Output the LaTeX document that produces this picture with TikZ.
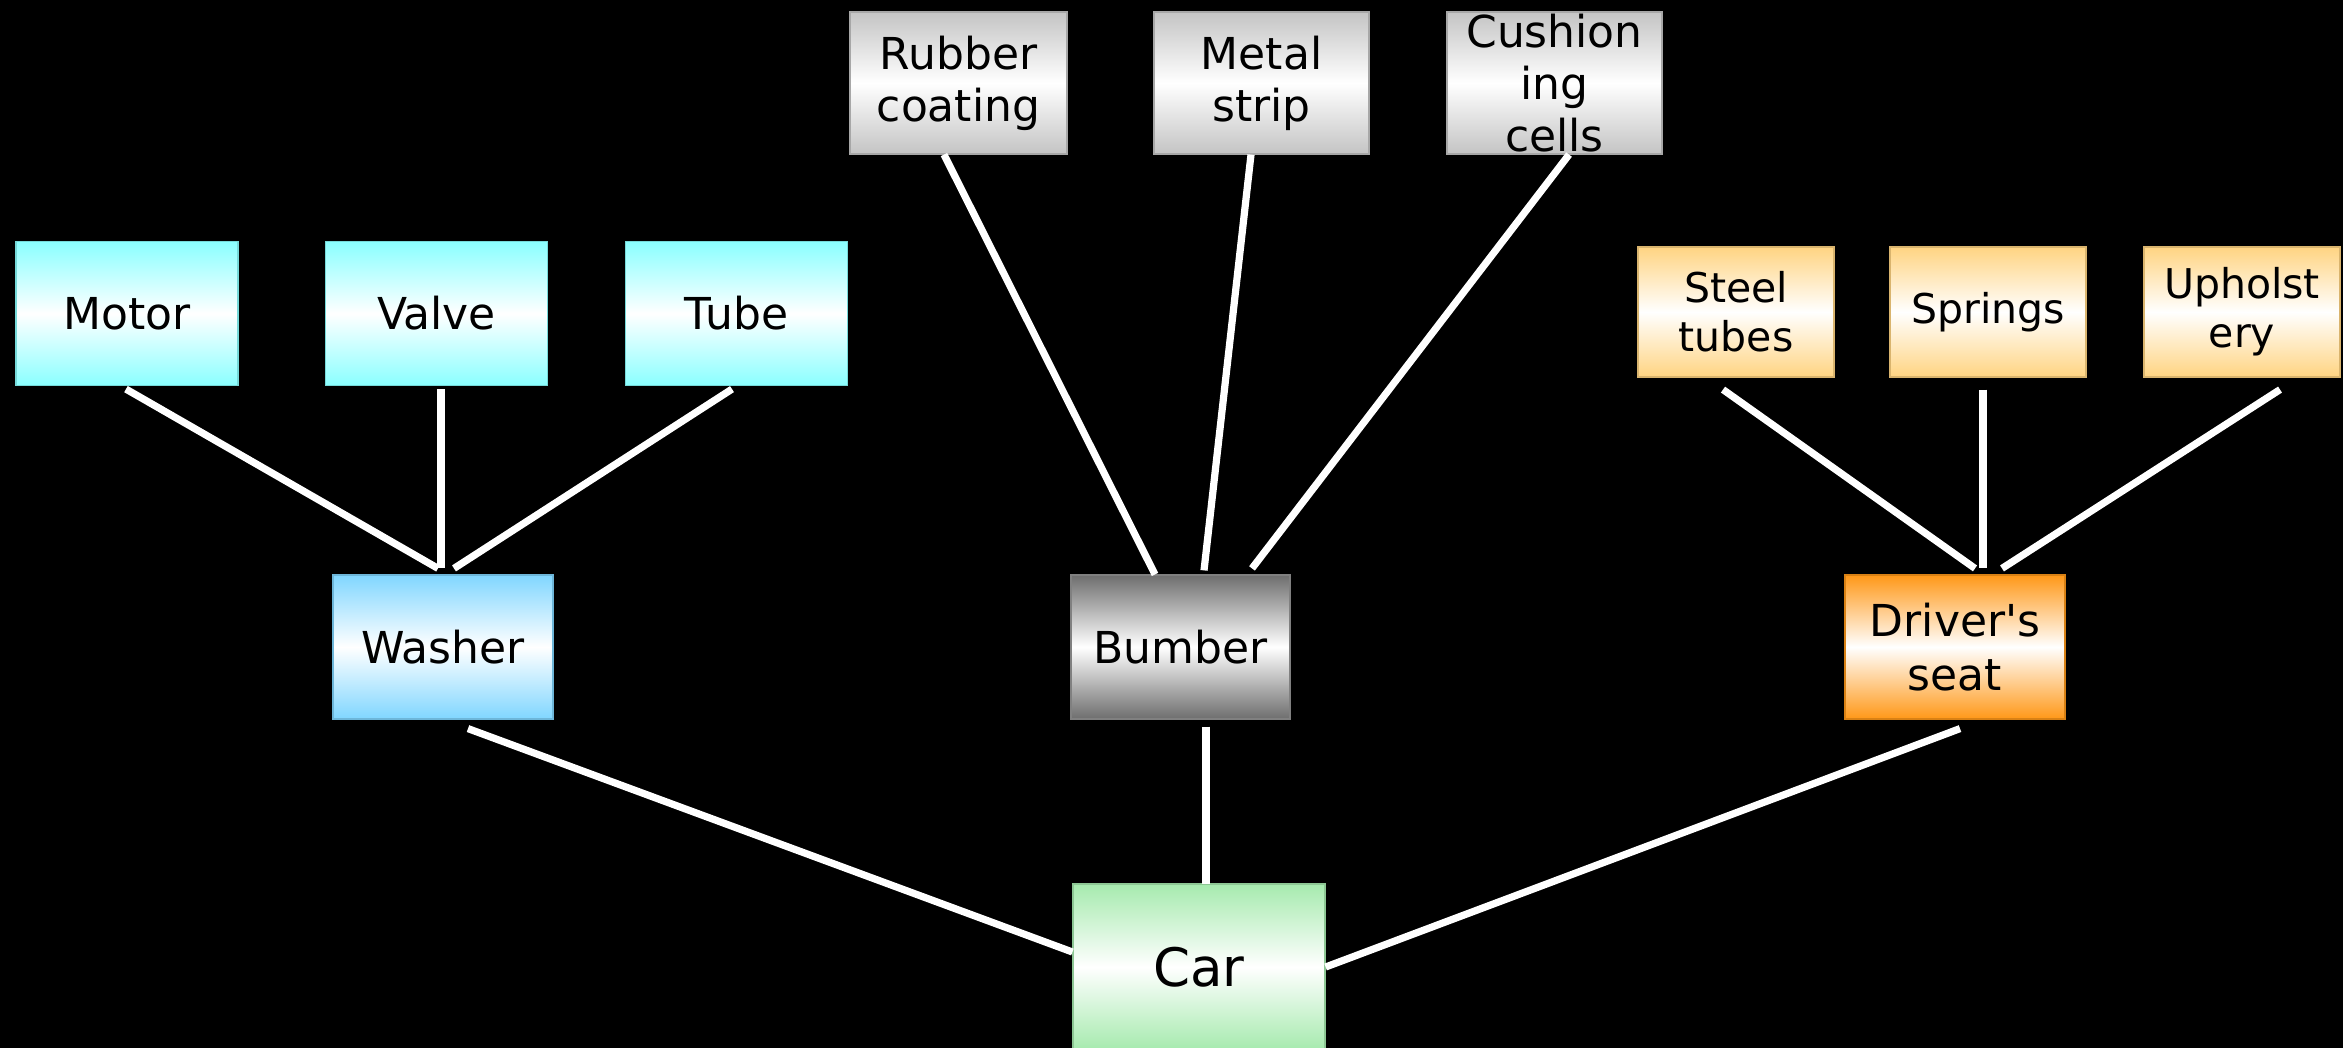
\documentclass[tikz,border=0pt]{standalone}
\usepackage{fontspec}
\setmainfont{DejaVu Sans}[Ligatures=TeXOff]
\usetikzlibrary{calc}
\definecolor{cyanc}{RGB}{138,255,255}
\definecolor{bluec}{RGB}{128,214,255}
\definecolor{lgrey}{RGB}{196,196,196}
\definecolor{dgrey}{RGB}{110,110,110}
\definecolor{lorange}{RGB}{255,212,130}
\definecolor{dorange}{RGB}{255,152,24}
\definecolor{greenc}{RGB}{166,234,174}
\tikzset{
  box/.style={rectangle, inner sep=0pt, align=center, text=black,
    font=\fontsize{22}{26}\selectfont, line width=0.6pt},
  shadebox/.style={box, top color=#1, bottom color=#1, middle color=white, draw=#1!85!black},
  bigbox/.style={shadebox=#1, minimum width=110pt, minimum height=72pt},
  smallbox/.style={shadebox=#1, minimum width=98pt, minimum height=65pt,
    font=\fontsize{20.5}{24.5}\selectfont},
  link/.style={draw=white, line width=3.6pt},
}
\begin{document}
\begin{tikzpicture}[x=0.5pt, y=-0.5pt]
\fill[black] (0,0) rectangle (2343,1048);
\useasboundingbox (0,0) rectangle (2343,1048);
% level 1 leaves
\node[bigbox=cyanc, minimum width=111pt] (motor) at (127,313.5) {Motor};
\node[bigbox=cyanc, minimum width=111pt] (valve) at (436.5,313.5) {Valve};
\node[bigbox=cyanc, minimum width=111pt] (tube) at (736.5,313.5) {Tube};
\node[bigbox=lgrey, minimum width=108.5pt, minimum height=71pt] (rubber) at (958.5,83) {Rubber\\coating};
\node[bigbox=lgrey, minimum width=107.5pt, minimum height=71pt] (metal) at (1261.5,83) {Metal\\strip};
\node[bigbox=lgrey, minimum width=107.5pt, minimum height=71pt] (cushion) at (1554.5,83) {Cushion\\ing\\cells};
\node[smallbox=lorange] (steel) at (1736,312) {Steel\\tubes};
\node[smallbox=lorange] (springs) at (1988,312) {Springs};
\node[smallbox=lorange] (uphol) at (2242,312) {Upholst\\ery};
% middle level
\node[bigbox=bluec] (washer) at (443,647) {Washer};
\node[bigbox=dgrey, minimum width=109.5pt, draw=gray] (bumber) at (1180.5,647) {Bumber};
\node[bigbox=dorange, font=\fontsize{22}{27}\selectfont] (driver) at (1955,647) {Driver's\\seat};
% root
\node[shadebox=greenc, minimum width=126pt, minimum height=83pt, font=\fontsize{26.5}{30}\selectfont] (car) at (1199,967) {Car};
% connectors
\draw[link] ($(motor.south)+(-1,3)$) -- ($(washer.north)+(-5,-6)$);
\draw[link] ($(valve.south)+(4.5,3)$) -- ($(washer.north)+(-2,-6)$);
\draw[link] ($(tube.south)+(-4.5,3)$) -- ($(washer.north)+(11,-6)$);
\draw[link] ($(washer.south)+(25,9)$) -- ($(car.west)+(0,-15)$);
\draw[link] ($(rubber.south)+(-14.5,0)$) -- ($(bumber.north)+(-25.5,0)$);
\draw[link] ($(metal.south)+(-10.5,0)$) -- ($(bumber.north)+(23.5,-4)$);
\draw[link] ($(cushion.south)+(14.5,0)$) -- ($(bumber.north)+(71.5,-6)$);
\draw[link] ($(bumber.south)+(25.5,7)$) -- ($(car.north)+(7,1)$);
\draw[link] ($(steel.south)+(-13,12)$) -- ($(driver.north)+(20,-6)$);
\draw[link] ($(springs.south)+(-5,12)$) -- ($(driver.north)+(28,-6)$);
\draw[link] ($(uphol.south)+(38,12)$) -- ($(driver.north)+(47,-6)$);
\draw[link] ($(driver.south)+(5,9)$) -- (car.east);
\end{tikzpicture}
\end{document}
